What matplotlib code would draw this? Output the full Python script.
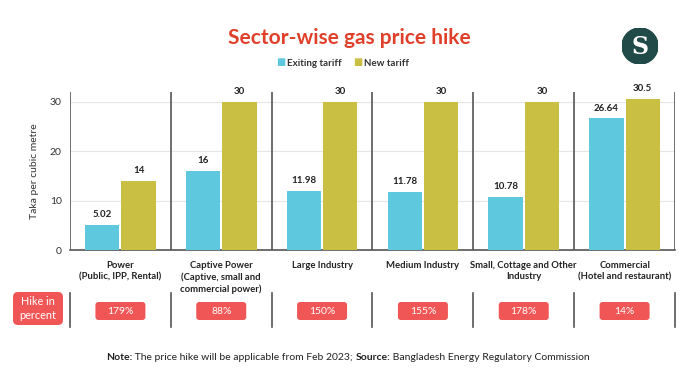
import matplotlib
matplotlib.use('Agg')
import matplotlib.pyplot as plt
from matplotlib.patches import FancyBboxPatch, Circle
from matplotlib.transforms import IdentityTransform

sectors = ['Power\n(Public, IPP, Rental)',
           'Captive Power\n(Captive, small and\ncommercial power)',
           'Large Industry',
           'Medium Industry',
           'Small, Cottage and Other\nIndustry',
           'Commercial\n(Hotel and restaurant)']
existing = [5.02, 16, 11.98, 11.78, 10.78, 26.64]
new = [14, 30, 30, 30, 30, 30.5]
existingLabels = ['5.02', '16', '11.98', '11.78', '10.78', '26.64']
newLabels = ['14', '30', '30', '30', '30', '30.5']
hikes = ['179%', '88%', '150%', '155%', '178%', '14%']

cyan = '#5ec8df'
olive = '#c9bf42'
red = '#f05656'
W, H = 696, 392

plt.rcParams['font.family'] = ['Lato', 'DejaVu Sans']
fig = plt.figure(figsize=(W / 100, H / 100), dpi=100)
fig.patch.set_facecolor('white')

def box(l, t, r, b):
    return [l / W, 1 - b / H, (r - l) / W, (b - t) / H]

def pill(l, t, r, b, rad=3):
    # pixel coords from top-left
    p = FancyBboxPatch((l, H - b), r - l, b - t,
                       boxstyle='round,pad=0,rounding_size=%d' % rad,
                       transform=IdentityTransform(), facecolor=red, edgecolor='none')
    fig.patches.append(p)

ax = fig.add_axes(box(70, 92, 675, 250))
x = list(range(len(sectors)))
bw = 0.34
xe = [i - 0.18 for i in x]
xn = [i + 0.18 for i in x]
ax.bar(xe, existing, width=bw, color=cyan, zorder=3)
ax.bar(xn, new, width=bw, color=olive, zorder=3)
for xi, v, s in zip(xe, existing, existingLabels):
    ax.text(xi, v + 1.2, s, ha='center', va='bottom', fontsize=7, fontweight='bold', color='#222222')
for xi, v, s in zip(xn, new, newLabels):
    ax.text(xi, v + 1.2, s, ha='center', va='bottom', fontsize=7, fontweight='bold', color='#222222')

ax.set_xlim(-0.5, len(sectors) - 0.5)
ax.set_ylim(0, 32)
ax.set_yticks([0, 10, 20, 30])
ax.tick_params(axis='y', length=0, labelsize=7.5, colors='#333333', pad=6)
ax.set_xticks([])
ax.grid(axis='y', color='#e6e6e6', linewidth=0.8, zorder=0)
for s in ['top', 'right', 'left']:
    ax.spines[s].set_visible(False)
ax.spines['bottom'].set_color('#555555')
ax.spines['bottom'].set_linewidth(1.2)
for b in [i - 0.5 for i in range(len(sectors) + 1)]:
    ax.axvline(b, color='#555555', linewidth=1.2, zorder=4)
ax.set_ylabel('Taka per cubic metre', fontsize=7.5, color='#333333', labelpad=8)

for xi, s in zip(x, sectors):
    ax.text(xi, -2.2, s, ha='center', va='top', fontsize=6.8, fontweight='bold',
            color='#222222', linespacing=1.35)

# hike row
ax2 = fig.add_axes(box(70, 290, 675, 330))
ax2.set_xlim(-0.5, len(sectors) - 0.5)
ax2.set_ylim(0, 1)
ax2.axis('off')
for b in [i - 0.5 for i in range(len(sectors) + 1)]:
    ax2.plot([b, b], [0.07, 0.93], color='#555555', linewidth=1.2, clip_on=False)
for xi, h in zip(x, hikes):
    cx = 70 + (xi + 0.5) * (675 - 70) / len(sectors)
    pill(cx - 25, 302, cx + 25, 320)
    fig.text(cx / W, 1 - 311 / H, h, ha='center', va='center', fontsize=7.5,
             color='white', zorder=5)

pill(13, 292, 63, 325, rad=5)
fig.text(38 / W, 1 - 308.5 / H, 'Hike in\npercent', ha='center', va='center',
         fontsize=7.8, color='white', linespacing=1.3, zorder=5)

# title and legend
fig.text(349 / W, 1 - 38 / H, 'Sector-wise gas price hike', ha='center', va='center',
         fontsize=15, fontweight='bold', color='#e0402a')
fig.text(281 / W, 1 - 63 / H, '\u25a0', ha='center', va='center', fontsize=7, color=cyan)
fig.text(287 / W, 1 - 63 / H, 'Exiting tariff', ha='left', va='center', fontsize=7,
         fontweight='bold', color='#333333')
fig.text(358 / W, 1 - 63 / H, '\u25a0', ha='center', va='center', fontsize=7, color=olive)
fig.text(364 / W, 1 - 63 / H, 'New tariff', ha='left', va='center', fontsize=7,
         fontweight='bold', color='#333333')

# logo
logo = fig.add_axes(box(622, 28, 658, 64))
logo.set_xlim(-1, 1)
logo.set_ylim(-1, 1)
logo.axis('off')
logo.add_patch(Circle((0, 0), 1, color='#1f4a48'))
logo.text(0, -0.05, 'S', ha='center', va='center', fontsize=17, color='white',
          fontfamily='DejaVu Serif', fontweight='bold')

# footnote, pieces placed one after another
parts = [('Note:', 'bold'), (' The price hike will be applicable from Feb 2023; ', 'normal'),
         ('Source:', 'bold'), (' Bangladesh Energy Regulatory Commission', 'normal')]
fig.canvas.draw()
r = fig.canvas.get_renderer()
texts = []
for s, wgt in parts:
    t = fig.text(0, 1 - 357 / H, s, ha='left', va='center', fontsize=7.5,
                 fontweight=wgt, color='#222222')
    texts.append(t)
widths = [t.get_window_extent(r).width for t in texts]
xpos = 348 - sum(widths) / 2
for t, w in zip(texts, widths):
    t.set_x(xpos / W)
    xpos += w

fig.savefig('out.png', dpi=100)
